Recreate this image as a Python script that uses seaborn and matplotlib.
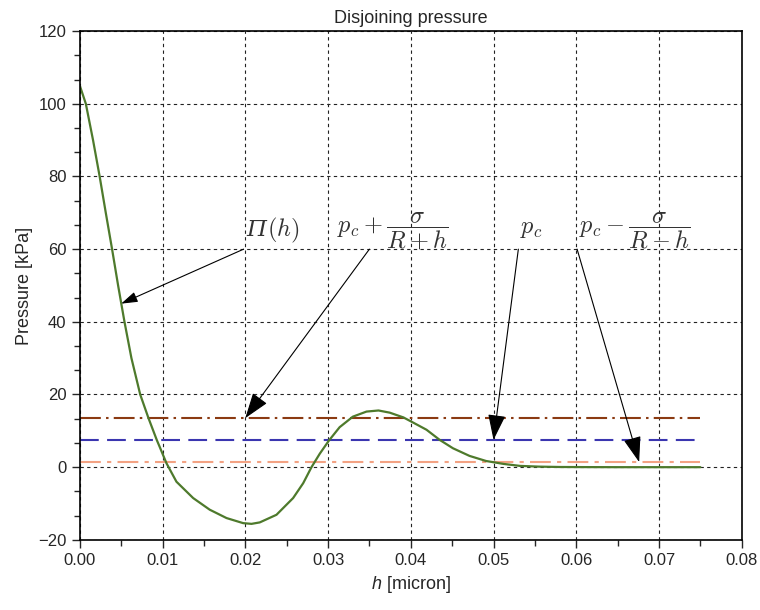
import matplotlib
matplotlib.use("Agg")
import matplotlib.pyplot as plt
from matplotlib.ticker import MultipleLocator
import seaborn as sns

# disjoining pressure curve
h = [0.0, 0.00073, 0.0016, 0.0024, 0.00314, 0.0039, 0.00463, 0.0054, 0.00624,
     0.0073, 0.0083, 0.0093, 0.00967, 0.01047, 0.01168, 0.0137, 0.0157, 0.01773,
     0.01974, 0.02075, 0.02175, 0.02377, 0.02578, 0.0270, 0.0280, 0.0290,
     0.0301, 0.0314, 0.0330, 0.03465, 0.0361, 0.03746, 0.0391, 0.0401, 0.0419,
     0.0435, 0.0451, 0.0471, 0.0491, 0.0512, 0.0532, 0.0555, 0.0580, 0.0610,
     0.065, 0.070, 0.075]
pi_h = [105, 100, 90, 80, 70, 60, 50, 40, 30,
        20, 13.5, 7.5, 5.5, 1.1, -4.0, -8.5, -11.7, -14.0,
        -15.4, -15.6, -15.2, -13.1, -8.5, -4.4, 0.0, 3.7,
        7.3, 11.0, 13.9, 15.3, 15.6, 15.0, 13.7, 12.5, 10.3,
        7.5, 5.2, 3.1, 1.7, 0.9, 0.35, 0.15, 0.05, 0.02,
        0.0, 0.0, 0.0]

h_line = [0.0, 0.075]
p_plus = 13.4   # p_c + sigma/(R+h)
p_c = 7.4
p_minus = 1.4   # p_c - sigma/(R-h)

sns.set_style("ticks")
plt.rcParams["font.family"] = ["Liberation Sans", "DejaVu Sans"]
plt.rcParams["mathtext.fontset"] = "custom"
plt.rcParams["mathtext.it"] = "Liberation Sans:italic"
plt.rcParams["mathtext.rm"] = "Liberation Sans"

fig = plt.figure(figsize=(7.6, 6.1), dpi=100)
ax = fig.add_axes([0.105, 0.115, 0.871, 0.834])

sns.lineplot(x=h_line, y=[p_plus, p_plus], ax=ax, color="#8b3a12", lw=1.5)
ax.lines[-1].set_dashes([10, 2.5, 1.2, 2.5])
sns.lineplot(x=h_line, y=[p_c, p_c], ax=ax, color="#3b36b0", lw=1.5)
ax.lines[-1].set_dashes([9, 4])
sns.lineplot(x=h_line, y=[p_minus, p_minus], ax=ax, color="#f3a283", lw=1.5)
ax.lines[-1].set_dashes([10, 3, 2, 3])
sns.lineplot(x=h, y=pi_h, ax=ax, color="#4e7a2c", lw=1.6, estimator=None)

ax.set_xlim(0, 0.08)
ax.set_ylim(-20, 120)
ax.xaxis.set_major_locator(MultipleLocator(0.01))
ax.xaxis.set_minor_locator(MultipleLocator(0.005))
ax.yaxis.set_major_locator(MultipleLocator(20))
ax.yaxis.set_minor_locator(MultipleLocator(20 / 3))
ax.xaxis.set_major_formatter(matplotlib.ticker.FormatStrFormatter("%.2f"))
ax.yaxis.set_major_formatter(matplotlib.ticker.FuncFormatter(
    lambda v, _: f"{v:.0f}".replace("-", "\u2212")))
ax.tick_params(which="major", direction="out", length=6, width=1, labelsize=12,
               top=False, right=False)
ax.tick_params(which="minor", direction="out", length=4, width=1,
               top=False, right=False)
ax.grid(True, which="major", color="#222222", linestyle=(0, (3, 3)), lw=0.8)
for s in ax.spines.values():
    s.set_linewidth(1.2)
    s.set_color("black")

ax.set_title("Disjoining pressure", fontsize=13, pad=6)
ax.set_xlabel("$h$ [micron]", fontsize=13)
ax.set_ylabel("Pressure [kPa]", fontsize=13)

# labels and arrows
math_kw = dict(fontsize=17.5, color="#333333", math_fontfamily="cm",
               ha="center", va="center")
# italic capital Pi (mathtext keeps Greek capitals upright)
ax.text(0.0226, 63.6, "\u03a0", fontsize=16.5, color="#333333",
        family="DejaVu Serif", style="italic", ha="right", va="baseline")
ax.text(0.0226, 63.6, r"$(h)$", fontsize=17.5, color="#333333",
        math_fontfamily="cm", ha="left", va="baseline")
ax.text(0.0378, 65, r"$p_c+\dfrac{\sigma}{R+h}$", **math_kw)
ax.text(0.0545, 65.5, r"$p_c$", **math_kw)
ax.text(0.0671, 65, r"$p_c-\dfrac{\sigma}{R-h}$", **math_kw)

big = dict(arrowstyle="-|>,head_length=1.6,head_width=0.55", color="black",
           lw=0.8, shrinkA=0, shrinkB=0, mutation_scale=10)
small = dict(arrowstyle="-|>,head_length=1.0,head_width=0.32", color="black",
             lw=0.8, shrinkA=0, shrinkB=0, mutation_scale=10)
ax.annotate("", xy=(0.0050, 45), xytext=(0.0198, 60), arrowprops=small)
ax.annotate("", xy=(0.0200, 13.5), xytext=(0.0350, 60), arrowprops=big)
ax.annotate("", xy=(0.0500, 7.5), xytext=(0.0530, 60), arrowprops=big)
ax.annotate("", xy=(0.0676, 1.4), xytext=(0.0601, 60), arrowprops=big)

fig.savefig("out.png", dpi=100)
